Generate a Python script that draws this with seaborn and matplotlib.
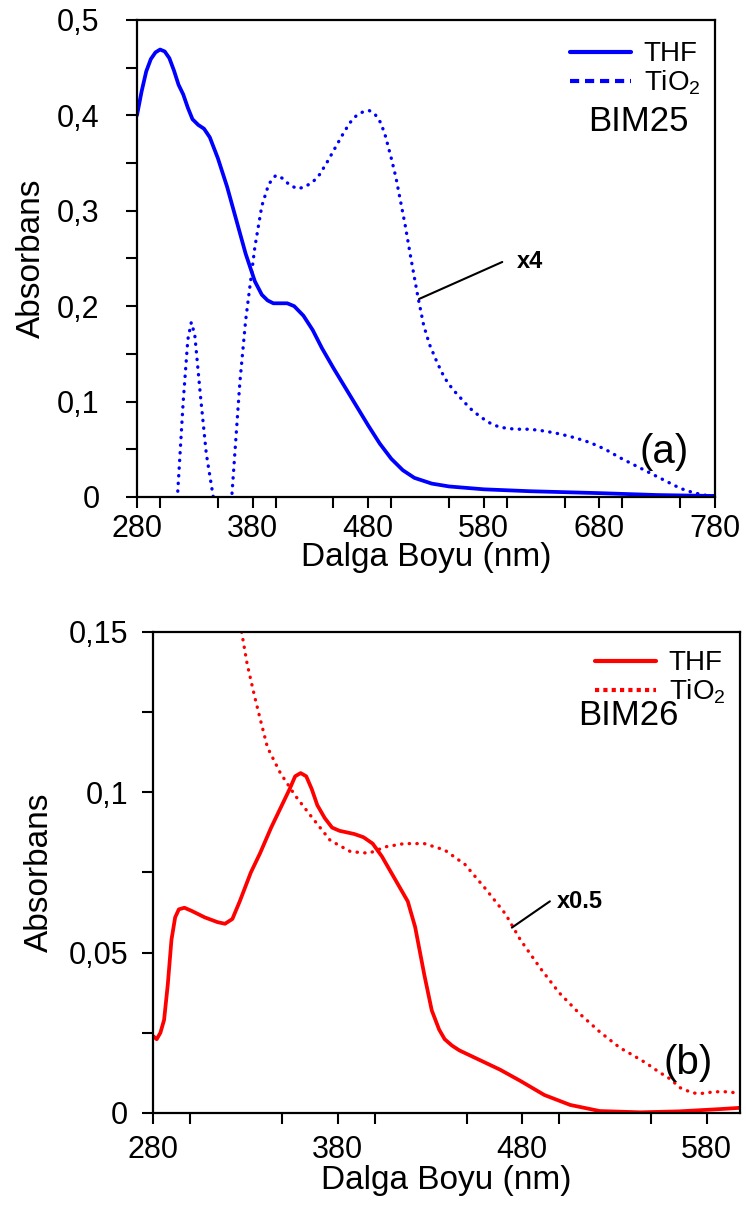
import numpy as np
import pandas as pd
import matplotlib
matplotlib.use('Agg')
import matplotlib.pyplot as plt
from matplotlib.lines import Line2D
from matplotlib.ticker import MultipleLocator, FixedLocator, FixedFormatter
import seaborn as sns

# ---- BIM25 (panel a) ----
wl_thf_a = [280, 284, 288, 292, 296, 300, 304, 308, 312, 316, 320, 324, 328, 333, 338,
            343, 350, 358, 366, 374, 382, 388, 393, 398, 404, 410, 416, 424, 432, 440,
            450, 460, 470, 480, 490, 500, 510, 520, 535, 550, 580, 620, 680, 730, 780]
abs_thf_a = [0.400, 0.425, 0.446, 0.459, 0.466, 0.469, 0.467, 0.460, 0.447, 0.432, 0.422,
             0.408, 0.396, 0.390, 0.386, 0.377, 0.355, 0.325, 0.290, 0.255, 0.226, 0.212,
             0.206, 0.203, 0.203, 0.203, 0.200, 0.190, 0.175, 0.156, 0.135, 0.115, 0.095,
             0.075, 0.056, 0.040, 0.028, 0.020, 0.014, 0.011, 0.008, 0.006, 0.004, 0.002,
             0.001]

wl_tio2_a = [311, 315, 320, 324, 327, 330, 335, 340, 346, 350, 356, 362, 369, 374, 382,
             388, 394, 400, 406, 412, 419, 425, 432, 438, 445, 451, 458, 464, 470, 476,
             481, 486, 491, 495, 500, 504, 508, 512, 517, 523, 528, 533, 540, 546, 553,
             559, 568, 577, 586, 594, 607, 620, 633, 646, 659, 672, 685, 698, 711, 724,
             737, 750, 760, 770, 780]
abs_tio2_a = [-0.05, 0.000, 0.100, 0.165, 0.183, 0.170, 0.105, 0.045, 0.000, -0.050,
              -0.050, 0.000, 0.120, 0.185, 0.262, 0.305, 0.328, 0.337, 0.334, 0.327,
              0.323, 0.325, 0.330, 0.338, 0.352, 0.365, 0.380, 0.392, 0.400, 0.404,
              0.405, 0.401, 0.392, 0.378, 0.355, 0.335, 0.310, 0.285, 0.250, 0.210,
              0.180, 0.160, 0.140, 0.125, 0.113, 0.105, 0.093, 0.084, 0.077, 0.073,
              0.071, 0.071, 0.069, 0.066, 0.062, 0.057, 0.050, 0.041, 0.033, 0.025,
              0.017, 0.009, 0.005, 0.002, 0.001]

# ---- BIM26 (panel b) ----
wl_thf_b = [280, 282, 284, 286, 288, 290, 292, 294, 297, 301, 308, 315, 319, 323, 327,
            333, 338, 344, 349, 354, 357, 360, 363, 366, 369, 373, 377, 381, 385, 389,
            394, 399, 404, 409, 414, 418, 422, 427, 431, 435, 438, 442, 446, 457, 468,
            479, 492, 506, 522, 544, 565, 587, 598]
abs_thf_b = [0.024, 0.023, 0.025, 0.029, 0.040, 0.054, 0.061, 0.0635, 0.064, 0.063, 0.061,
             0.0595, 0.059, 0.0605, 0.066, 0.075, 0.081, 0.089, 0.095, 0.101, 0.105, 0.106,
             0.105, 0.101, 0.096, 0.092, 0.089, 0.088, 0.0875, 0.087, 0.086, 0.084, 0.080,
             0.075, 0.070, 0.066, 0.058, 0.043, 0.032, 0.026, 0.023, 0.021, 0.0195, 0.0165,
             0.0135, 0.0100, 0.0056, 0.0025, 0.0006, 0.0002, 0.0005, 0.0012, 0.0016]

wl_tio2_b = [328, 331, 335, 338, 342, 349, 357, 365, 376, 387, 397, 406, 416, 427, 438,
             449, 460, 471, 479, 490, 500, 511, 522, 533, 540, 547, 554, 561, 565, 572,
             576, 584, 592, 598]
abs_tio2_b = [0.150, 0.140, 0.130, 0.123, 0.114, 0.106, 0.099, 0.093, 0.085, 0.0815,
              0.081, 0.083, 0.084, 0.084, 0.082, 0.0775, 0.070, 0.062, 0.054, 0.045,
              0.0375, 0.031, 0.0253, 0.0203, 0.018, 0.0156, 0.0128, 0.0103, 0.0080,
              0.0063, 0.0060, 0.0066, 0.0066, 0.0060]

labels = ['THF', 'TiO$_2$']
ytick_a = [0, 0.1, 0.2, 0.3, 0.4, 0.5]
ytick_a_lab = ['0', '0,1', '0,2', '0,3', '0,4', '0,5']
ytick_b = [0, 0.05, 0.1, 0.15]
ytick_b_lab = ['0', '0,05', '0,1', '0,15']
xtick_a = [280, 380, 480, 580, 680, 780]
xtick_b = [280, 380, 480, 580]

sns.set_style('ticks')
plt.rcParams['font.family'] = ['Liberation Sans', 'DejaVu Sans']
plt.rcParams['mathtext.fontset'] = 'custom'
plt.rcParams['mathtext.rm'] = 'Liberation Sans'
plt.rcParams['mathtext.it'] = 'Liberation Sans'
plt.rcParams['text.color'] = 'black'
plt.rcParams['axes.labelcolor'] = 'black'
plt.rcParams['xtick.color'] = 'black'
plt.rcParams['ytick.color'] = 'black'

fig = plt.figure(figsize=(7.46, 12.10), dpi=100)
ax1 = fig.add_axes([0.1836, 0.5893, 0.7748, 0.3942])
ax2 = fig.add_axes([0.2051, 0.0802, 0.7869, 0.3975])

dots = (0, (0.1, 2.2))


def style_axes(ax, xlim, ylim, xt, yt, ytl, xminor, yminor, xpad, ypad, xlpad, ylpad):
    ax.set_xlim(*xlim)
    ax.set_ylim(*ylim)
    ax.xaxis.set_major_locator(FixedLocator(xt))
    ax.xaxis.set_major_formatter(FixedFormatter([str(v) for v in xt]))
    ax.xaxis.set_minor_locator(MultipleLocator(xminor))
    ax.yaxis.set_major_locator(FixedLocator(yt))
    ax.yaxis.set_major_formatter(FixedFormatter(ytl))
    ax.yaxis.set_minor_locator(MultipleLocator(yminor))
    ax.tick_params(which='both', direction='out', length=8, width=1.5, color='black')
    ax.tick_params(which='major', labelsize=22, labelcolor='black')
    ax.tick_params(axis='x', which='major', pad=xpad)
    ax.tick_params(axis='y', which='major', pad=ypad)
    for s in ax.spines.values():
        s.set_visible(True)
        s.set_linewidth(1.6)
        s.set_color('black')
    ax.set_xlabel('Dalga Boyu (nm)', fontsize=24, labelpad=xlpad)
    ax.set_ylabel('Absorbans', fontsize=24, labelpad=ylpad)


# panel a
sns.lineplot(x=wl_thf_a, y=abs_thf_a, ax=ax1, color='#0000FF', lw=2.7, sort=False, estimator=None)
sns.lineplot(x=wl_tio2_a, y=abs_tio2_a, ax=ax1, color='#0000FF', lw=2.4, sort=False,
             estimator=None, linestyle=dots, dash_capstyle='round')
style_axes(ax1, (280, 780), (0, 0.5), xtick_a, ytick_a, ytick_a_lab, 50, 0.05, 4, 19, -1, 7)
h_a = [Line2D([], [], color='#0000FF', lw=3),
       Line2D([], [], color='#0000FF', lw=3, linestyle=(0, (2.2, 1.4)))]
ax1.legend(h_a, labels, loc='upper right', bbox_to_anchor=(0.975, 0.955), frameon=False,
           fontsize=20, handlelength=2.2, handletextpad=0.45, labelspacing=0.05,
           borderpad=0, borderaxespad=0)
ax1.text(0.78, 0.788, 'BIM25', transform=ax1.transAxes, fontsize=25, va='center', ha='left')
ax1.text(0.87, 0.094, '(a)', transform=ax1.transAxes, fontsize=29, va='center', ha='left')
ax1.plot([524, 596], [0.2075, 0.2463], color='black', lw=1.5)
ax1.text(609, 0.247, 'x4', fontsize=17, fontweight='bold', va='center', ha='left')

# panel b
sns.lineplot(x=wl_thf_b, y=abs_thf_b, ax=ax2, color='#FF0000', lw=2.7, sort=False, estimator=None)
sns.lineplot(x=wl_tio2_b, y=abs_tio2_b, ax=ax2, color='#FF0000', lw=2.4, sort=False,
             estimator=None, linestyle=dots, dash_capstyle='round')
style_axes(ax2, (280, 598), (0, 0.15), xtick_b, ytick_b, ytick_b_lab, 50, 0.025, 8, 10, 0, 10)
h_b = [Line2D([], [], color='#FF0000', lw=3),
       Line2D([], [], color='#FF0000', lw=3, linestyle=(0, (1.0, 1.0)))]
ax2.legend(h_b, labels, loc='upper right', bbox_to_anchor=(0.975, 0.962), frameon=False,
           fontsize=20, handlelength=2.2, handletextpad=0.45, labelspacing=0.05,
           borderpad=0, borderaxespad=0)
ax2.text(0.724, 0.826, 'BIM26', transform=ax2.transAxes, fontsize=25, va='center', ha='left')
ax2.text(0.869, 0.104, '(b)', transform=ax2.transAxes, fontsize=29, va='center', ha='left')
ax2.plot([474.4, 495], [0.0578, 0.066], color='black', lw=1.5)
ax2.text(499, 0.066, 'x0.5', fontsize=17, fontweight='bold', va='center', ha='left')

fig.savefig('out.png', dpi=100)
